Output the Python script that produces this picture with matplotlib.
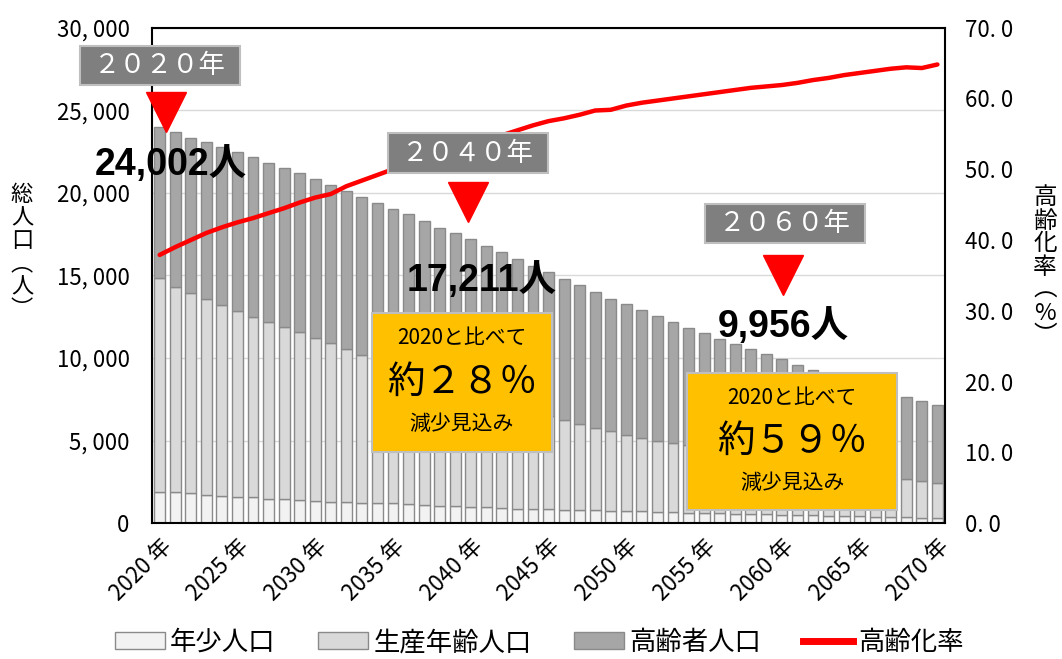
import matplotlib
matplotlib.use("Agg")
import matplotlib.pyplot as plt
from matplotlib.patches import Rectangle, Patch
from matplotlib.lines import Line2D
import numpy as np

# 年別人口推計（人）
years = list(range(2020, 2071))
young = [1900, 1880, 1820, 1720, 1660, 1600, 1560, 1490, 1450, 1390,
         1350, 1310, 1270, 1250, 1230, 1210, 1170, 1110, 1070, 1030,
         1010, 970, 930, 890, 870, 850, 830, 810, 790, 770,
         740, 720, 700, 680, 650, 620, 600, 580, 560, 530,
         500, 490, 470, 450, 430, 410, 390, 370, 350, 330,
         320]
working = [12950, 12420, 12120, 11860, 11550, 11250, 10920, 10690, 10430, 10190,
           9860, 9600, 9280, 8930, 8620, 8290, 8030, 7790, 7530, 7270,
           6990, 6730, 6470, 6210, 5930, 5650, 5420, 5190, 4970, 4810,
           4610, 4430, 4300, 4170, 4070, 3960, 3830, 3700, 3580, 3470,
           3300, 3190, 3070, 2940, 2820, 2690, 2560, 2450, 2350, 2220,
           2100]
elderly = [9152, 9400, 9410, 9520, 9590, 9650, 9670, 9620, 9620, 9620,
           9640, 9590, 9550, 9570, 9550, 9500, 9500, 9400, 9300, 9300,
           9211, 9100, 9000, 8900, 8800, 8700, 8550, 8400, 8240, 8020,
           7950, 7750, 7550, 7350, 7080, 6920, 6720, 6570, 6410, 6250,
           6156, 5920, 5760, 5630, 5490, 5360, 5250, 5100, 4950, 4850,
           4730]
# 高齢化率（%）
aging_rate = [37.9, 39.0, 40.0, 41.0, 41.8, 42.5, 43.1, 43.8, 44.5, 45.3,
              46.0, 46.5, 47.6, 48.4, 49.2, 50.0, 50.6, 51.3, 52.0, 52.7,
              53.4, 54.1, 54.8, 55.5, 56.2, 56.8, 57.2, 57.7, 58.3, 58.4,
              59.0, 59.4, 59.7, 60.0, 60.3, 60.6, 60.9, 61.2, 61.5, 61.7,
              61.9, 62.2, 62.6, 62.9, 63.3, 63.6, 63.9, 64.2, 64.4, 64.3,
              64.8]
tick_years = [2020, 2025, 2030, 2035, 2040, 2045, 2050, 2055, 2060, 2065, 2070]
series_names = ["年少人口", "生産年齢人口", "高齢者人口", "高齢化率"]

milestones = ["２０２０年", "２０４０年", "２０６０年"]
milestone_labels = ["24,002人", "17,211人", "9,956人"]
callouts = [("2020と比べて", "約２８％", "減少見込み"),
            ("2020と比べて", "約５９％", "減少見込み")]

plt.rcParams['font.family'] = ['Noto Sans CJK JP', 'DejaVu Sans']

fig = plt.figure(figsize=(10.62, 6.59), dpi=100)
ax = fig.add_axes([0.143, 0.206, 0.747, 0.752])

x = np.arange(len(years))
edge = '#8a8a8a'
colors = ['#f2f2f2', '#d9d9d9', '#a6a6a6']
bottom = np.zeros(len(years))
for vals, c in zip([young, working, elderly], colors):
    ax.bar(x, vals, bottom=bottom, width=0.7, color=c, edgecolor=edge,
           linewidth=1, zorder=2)
    bottom = bottom + np.array(vals)

ax.set_ylim(0, 30000)
ax.set_yticks(range(0, 30001, 5000))
ax.set_yticklabels([f"{v:,}".replace(",", ", ") for v in range(0, 30001, 5000)])
ax.yaxis.grid(True, color='#d9d9d9', linewidth=1, zorder=0)
ax.set_axisbelow(True)
ax.tick_params(axis='y', length=0, labelsize=16, pad=16)
ax.set_xticks([years.index(y) for y in tick_years])
ax.set_xticklabels([f"{y} 年" for y in tick_years], rotation=45, ha='right',
                   va='top', rotation_mode='anchor')
ax.tick_params(axis='x', length=0, labelsize=16, pad=8)
for s in ax.spines.values():
    s.set_color('black')
    s.set_linewidth(1.5)

ax2 = ax.twinx()
ax2.plot(x, aging_rate, color='#ff0000', linewidth=3.2, solid_capstyle='round', zorder=3)
ax2.set_ylim(0, 70)
ax2.set_yticks(range(0, 71, 10))
ax2.set_yticklabels([f"{v:.1f}".replace(".", ". ") for v in range(0, 71, 10)])
ax2.tick_params(axis='y', length=0, labelsize=16, pad=14)
for s in ax2.spines.values():
    s.set_visible(False)

# 注記（左軸のデータ座標で配置）
T = ax.transData
box_pos = [(0.0, 27700), (19.8, 22400), (40.2, 18150)]
tri_pos = [(0.4, 24900), (19.8, 19450), (40.05, 15000)]
num_pos = [(0.72, 21700), (20.7, 14700), (40.1, 11900)]
for name, lab, (bx, by), (tx, ty), (nx, ny) in zip(milestones, milestone_labels,
                                                   box_pos, tri_pos, num_pos):
    ax2.add_patch(Rectangle((bx - 5.15, by - 1200), 10.3, 2400, transform=T,
                            facecolor='#7f7f7f', edgecolor='#bfbfbf', linewidth=1.5,
                            zorder=5, clip_on=False))
    ax2.text(bx, by, name, transform=T, ha='center', va='center', color='white',
             fontsize=19, zorder=6)
    ax2.plot([tx], [ty], marker='v', markersize=29, color='#ff0000', linestyle='none',
             transform=T, clip_on=False, zorder=6)
    ax2.text(nx, ny, lab, transform=T, ha='center', va='center', color='black',
             fontsize=27, fontweight='bold', family=['Liberation Sans', 'Noto Sans CJK JP'],
             zorder=6)

box_rects = [(13.65, 4300, 11.55, 8430), (33.9, 790, 13.5, 8300)]
for (rx, ry, rw, rh), (l1, l2, l3) in zip(box_rects, callouts):
    ax2.add_patch(Rectangle((rx, ry), rw, rh, transform=T, facecolor='#ffc000',
                            edgecolor='#bfbfbf', linewidth=1.5, zorder=5))
    cx = rx + rw / 2
    ax2.text(cx, ry + rh * 0.82, l1, transform=T, ha='center', va='center',
             fontsize=15, zorder=6)
    ax2.text(cx, ry + rh * 0.5, l2, transform=T, ha='center', va='center',
             fontsize=27, zorder=6)
    ax2.text(cx, ry + rh * 0.2, l3, transform=T, ha='center', va='center',
             fontsize=15, zorder=6)

ax.set_xlim(-0.5, len(years) - 0.5)

fig.text(22 / 1062, 1 - 252 / 659, "総\n人\n口\n︵\n人\n︶", ha='center', va='center',
         fontsize=16, linespacing=1.0)
fig.text(1045 / 1062, 1 - 267 / 659, "高\n齢\n化\n率\n︵\n%\n︶", ha='center',
         va='center', fontsize=17, linespacing=1.0)

handles = [Patch(facecolor=c, edgecolor=edge) for c in colors]
handles.append(Line2D([], [], color='#ff0000', linewidth=5))
fig.legend(handles, series_names, loc='center', bbox_to_anchor=(0.508, 0.025), ncol=4,
           frameon=False, fontsize=19, handlelength=1.9, handleheight=0.6,
           columnspacing=1.6, handletextpad=0.2)

fig.savefig("out.png", dpi=100, facecolor='white')
